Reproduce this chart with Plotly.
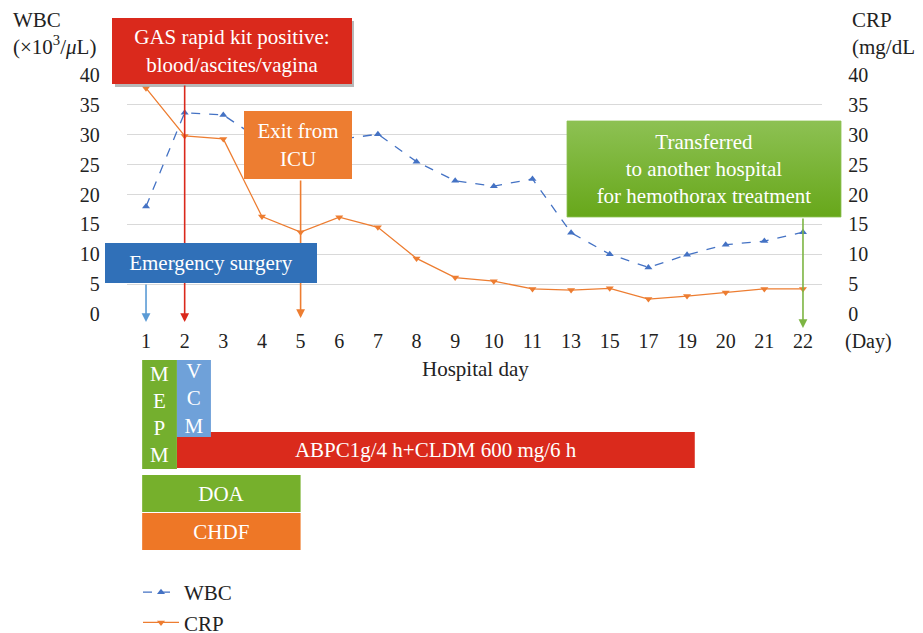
import plotly.graph_objects as go

W, H = 923, 633
OFF = 8  # page body margin offset
def px(x): return (x - OFF) / W
def py(y): return 1 - (y - OFF) / H

FONT = "Liberation Serif"

# ---------------- data ----------------
days = [1, 2, 3, 4, 5, 6, 7, 8, 9, 10, 11, 13, 15, 17, 19, 20, 21, 22]
wbc = [18.0, 33.7, 33.3, 29.0, 28.6, 29.2, 30.1, 25.5, 22.3, 21.4, 22.6, 13.6, 10.0, 7.8, 9.9, 11.6, 12.2, 13.7]
crp = [37.8, 29.8, 29.3, 16.3, 13.7, 16.2, 14.5, 9.3, 6.1, 5.5, 4.2, 4.0, 4.3, 2.5, 3.0, 3.6, 4.2, 4.2]
y_ticks = [0, 5, 10, 15, 20, 25, 30, 35, 40]

# treatments: start / end in hospital-day positions (category index)
treat_names = ["ABPC1g/4 h+CLDM 600 mg/6 h", "M<br>E<br>P<br>M", "V<br>C<br>M", "DOA", "CHDF"]
treat_start = [0.8, -0.1, 0.8, -0.1, -0.1]
treat_end = [14.2, 0.8, 1.68, 4.0, 4.0]

# events: (label, day index)
event_labels = ["Emergency surgery", "GAS rapid kit positive:<br>blood/ascites/vagina",
                "Exit from<br>ICU", "Transferred<br>to another hospital<br>for hemothorax treatment"]
event_day_idx = [0, 1, 4, 17]

# ---------------- styles / layout ----------------
treat_lane_center = [95, 59.5, 43.5, 138.5, 176.5]
treat_lane_height = [36, 109, 77, 37, 37]
treat_colors = ["#DA2A1C", "#74AF2E", "#6FA1D9", "#76B02C", "#EE7726"]

TXT = 21
TICK = 20
x_idx = list(range(len(days)))

fig = go.Figure()

fig.add_trace(go.Scatter(
    x=x_idx, y=wbc, name="WBC", mode="lines+markers",
    line=dict(color="#4472C4", width=1.3, dash="dash"),
    marker=dict(symbol="triangle-up", size=7, color="#4472C4"),
    xaxis="x", yaxis="y"))
fig.add_trace(go.Scatter(
    x=x_idx, y=crp, name="CRP", mode="lines+markers",
    line=dict(color="#ED7D31", width=1.3),
    marker=dict(symbol="triangle-down", size=7, color="#ED7D31"),
    xaxis="x", yaxis="y2"))

fig.add_trace(go.Bar(
    orientation="h",
    base=treat_start,
    x=[e - s for s, e in zip(treat_start, treat_end)],
    y=treat_lane_center, width=treat_lane_height,
    marker=dict(color=treat_colors, line=dict(width=0)),
    text=treat_names, textposition="inside", insidetextanchor="middle",
    textangle=0, constraintext="none",
    textfont=dict(family=FONT, size=TXT, color="white"),
    showlegend=False, hoverinfo="skip",
    xaxis="x", yaxis="y3"))

# event boxes (center x, center y, width, height, color) in pixels
box_geom = [(211, 263, 212, 40, "#3070B8"),
            (232, 51, 240, 66, "#DA291C"),
            (298, 145, 108, 68, "#ED7D31"),
            (704, 169, 274, 96, None)]
arrow_geom = [(283, 322, "#5B9BD5"), (84, 322, "#DA291C"), (179, 318, "#ED7D31"), (217, 328, "#7DB543")]

# gradient-filled green event box on a hidden full-page overlay axis
gx, gy, gw, gh = box_geom[3][:4]
fig.add_trace(go.Scatter(
    x=[gx - gw / 2, gx + gw / 2, gx + gw / 2, gx - gw / 2, gx - gw / 2],
    y=[gy - gh / 2, gy - gh / 2, gy + gh / 2, gy + gh / 2, gy - gh / 2],
    mode="lines", line=dict(width=0.8, color="#8DC153"), fill="toself",
    fillgradient=dict(type="vertical", colorscale=[[0, "#67A71A"], [1, "#8DC153"]]),
    showlegend=False, hoverinfo="skip", xaxis="x2", yaxis="y4"))

grid_col = "#D9D9D9"
fig.update_layout(
    width=W, height=H,
    margin=dict(l=0, r=0, t=0, b=0, autoexpand=False),
    paper_bgcolor="white", plot_bgcolor="rgba(0,0,0,0)",
    font=dict(family=FONT, size=TXT, color="#222222"),
    barmode="overlay",
    xaxis=dict(domain=[px(126.7), px(822.3)], range=[-0.5, 17.5], automargin=False,
               tickmode="array", tickvals=x_idx, ticktext=[str(d) for d in days],
               showgrid=False, zeroline=False, showline=False, ticks="",
               ticklabelstandoff=13, tickfont=dict(size=TICK, color="#222222"),
               anchor="y"),
    yaxis=dict(domain=[py(314), py(75)], range=[0, 40], tickvals=y_ticks, automargin=False,
               showgrid=True, gridcolor=grid_col, gridwidth=1, zeroline=False,
               showline=False, ticks="", ticklabelstandoff=26,
               tickfont=dict(size=TICK, color="#222222")),
    yaxis2=dict(domain=[py(314), py(75)], range=[0, 40], tickvals=y_ticks, automargin=False,
                overlaying="y", side="right", showgrid=False, zeroline=False,
                showline=False, ticks="", ticklabelstandoff=25,
                tickfont=dict(size=TICK, color="#222222")),
    yaxis3=dict(domain=[py(555), py(355)], range=[200, 0], visible=False,
                anchor="x", automargin=False),
    xaxis2=dict(domain=[0, 1], range=[OFF, W + OFF], visible=False, anchor="y4",
                automargin=False, fixedrange=True),
    yaxis4=dict(domain=[0, 1], range=[H + OFF, OFF], visible=False, anchor="x2",
                automargin=False, fixedrange=True),
    legend=dict(x=px(138), y=py(572), xanchor="left", yanchor="top",
                font=dict(size=TXT, color="#222222"), bgcolor="rgba(0,0,0,0)",
                tracegroupgap=4, itemwidth=36),
    showlegend=True,
)

# shadow for red box
fig.add_shape(type="rect", xref="paper", yref="paper",
              x0=px(115), x1=px(354), y0=py(87), y1=py(21),
              fillcolor="#9A9A9A", line=dict(width=0), layer="above", opacity=0.7)

ann = []
# axis titles
ann.append(dict(text="WBC<br>(×10<sup>3</sup>/<i>μ</i>L)", x=px(11), y=py(6), xref="paper", yref="paper",
                xanchor="left", yanchor="top", align="left", showarrow=False,
                font=dict(size=TXT, color="#222222")))
ann.append(dict(text="CRP<br>(mg/dL)", x=px(850), y=py(6), xref="paper", yref="paper",
                xanchor="left", yanchor="top", align="left", showarrow=False,
                font=dict(size=TXT, color="#222222")))
ann.append(dict(text="(Day)", x=px(868), y=py(341), xref="paper", yref="paper",
                xanchor="center", yanchor="middle",
                showarrow=False, font=dict(size=TICK, color="#222222")))
ann.append(dict(text="Hospital day", x=px(475), y=py(369), xref="paper", yref="paper",
                xanchor="center", yanchor="middle",
                showarrow=False, font=dict(size=TXT, color="#222222")))

for di, (ty, tipy, acol) in zip(event_day_idx, arrow_geom):
    ann.append(dict(text="", x=di, y=py(tipy), xref="x", yref="paper",
                    showarrow=True, ax=0, ay=-(tipy - ty), arrowhead=2, arrowsize=1.1,
                    arrowwidth=1.6, arrowcolor=acol, standoff=0, startstandoff=0))
for lab, (cx, cy, bw, bh, col) in zip(event_labels, box_geom):
    a = dict(text=lab, x=px(cx), y=py(cy), xref="paper", yref="paper",
             xanchor="center", yanchor="middle",
             showarrow=False, width=bw - 8, height=bh - 8,
             borderpad=4, borderwidth=0, align="center", valign="middle",
             font=dict(size=TXT, color="white"))
    if col:
        a["bgcolor"] = col
    ann.append(a)

fig.update_layout(annotations=ann)
fig.write_html("out.html")
